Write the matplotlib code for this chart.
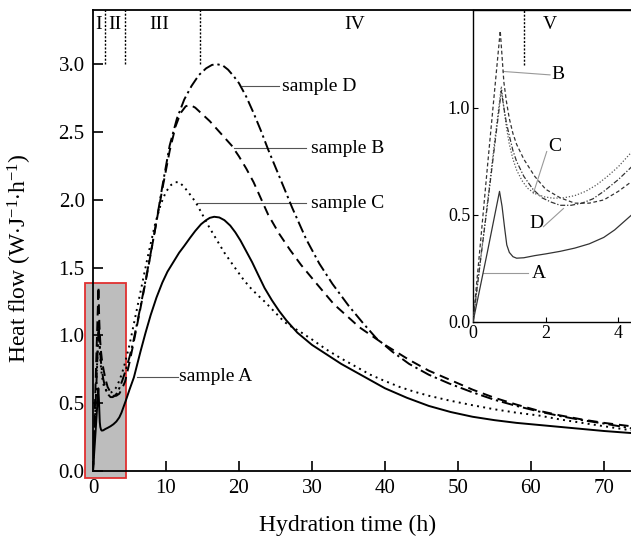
import matplotlib
matplotlib.use("Agg")
import matplotlib.pyplot as plt
from matplotlib.patches import Rectangle

plt.rcParams['font.family'] = ['Liberation Serif', 'DejaVu Serif']
plt.rcParams['mathtext.fontset'] = 'custom'
plt.rcParams['mathtext.rm'] = 'Liberation Serif'
plt.rcParams['mathtext.it'] = 'Liberation Serif:italic'

# ---------------- data ----------------
A_x = [0, 0.2, 0.4, 0.6, 0.73, 0.8, 0.87, 0.93, 1.0, 1.1, 1.2, 1.4, 1.7, 2.0, 2.4, 2.8, 3.2, 3.6, 3.9,
       4.2, 4.5, 5.0, 5.6, 6.5, 7.2, 7.9, 8.7, 9.5, 10.2, 11.0, 11.8, 12.5, 13.3, 14.0, 14.8, 15.5, 16.0,
       16.6, 17.3, 18.0, 18.8, 19.5, 20.2, 21.0, 21.8, 22.6, 23.5, 24.5, 25.5, 26.5, 28, 30, 32, 34, 36,
       38, 40, 43, 46, 49, 52, 55, 58, 61, 64, 67, 70, 73.7]
A_y = [0, 0.165, 0.33, 0.50, 0.61, 0.54, 0.44, 0.36, 0.325, 0.305, 0.298, 0.30, 0.31, 0.318, 0.33, 0.345,
       0.365, 0.395, 0.43, 0.475, 0.52, 0.60, 0.69, 0.88, 1.02, 1.15, 1.28, 1.39, 1.47, 1.54, 1.61, 1.66,
       1.72, 1.77, 1.82, 1.85, 1.867, 1.875, 1.87, 1.85, 1.81, 1.76, 1.70, 1.62, 1.54, 1.45, 1.35, 1.26,
       1.18, 1.11, 1.02, 0.93, 0.86, 0.79, 0.73, 0.67, 0.61, 0.54, 0.48, 0.435, 0.40, 0.375, 0.355, 0.34,
       0.325, 0.31, 0.295, 0.28]

B_x = [0, 0.2, 0.4, 0.6, 0.75, 0.8, 0.85, 0.92, 1.0, 1.1, 1.2, 1.4, 1.7, 2.0, 2.4, 2.8, 3.2, 3.6, 4.0,
       4.4, 5.0, 5.5, 6.5, 7.5, 8.5, 9.5, 10.5, 11.3, 12.0, 12.7, 13.3, 14.0, 15.0, 16.0, 17.0, 18.0, 19.0,
       20.0, 21.0, 22.0, 23.0, 24.0, 25.5, 27, 28.5, 30.5, 33, 36.5, 40, 43.3, 46, 49, 52, 55, 58, 61, 64,
       67, 70, 73.7]
B_y = [0, 0.36, 0.73, 1.09, 1.36, 1.24, 1.12, 1.03, 0.95, 0.88, 0.83, 0.76, 0.68, 0.62, 0.58, 0.555,
       0.555, 0.57, 0.61, 0.66, 0.80, 0.93, 1.20, 1.48, 1.78, 2.08, 2.36, 2.54, 2.64, 2.69, 2.70, 2.68,
       2.63, 2.58, 2.52, 2.46, 2.40, 2.32, 2.23, 2.13, 2.01, 1.89, 1.75, 1.63, 1.52, 1.39, 1.23, 1.06,
       0.93, 0.82, 0.74, 0.67, 0.60, 0.54, 0.49, 0.445, 0.41, 0.38, 0.355, 0.33]

C_x = [0, 0.2, 0.4, 0.6, 0.78, 0.85, 0.92, 1.0, 1.1, 1.2, 1.35, 1.5, 1.7, 1.95, 2.2, 2.5, 2.8, 3.1, 3.4,
       3.7, 4.0, 4.4, 5.0, 5.5, 6.5, 7.5, 8.5, 9.3, 10.0, 10.7, 11.3, 11.8, 12.4, 13.0, 13.7, 14.3, 15.0,
       15.9, 17.0, 18.0, 19.3, 20.5, 21.4, 22.5, 23.5, 24.4, 25.3, 26.2, 27.3, 28.3, 30, 32, 34, 36, 38,
       39.7, 42, 44, 46, 48.8, 52, 55, 58, 61, 64, 67, 70, 73.7]
C_y = [0, 0.28, 0.56, 0.85, 1.10, 1.0, 0.91, 0.83, 0.76, 0.71, 0.66, 0.625, 0.60, 0.585, 0.578, 0.58,
       0.59, 0.61, 0.64, 0.68, 0.725, 0.80, 0.93, 1.06, 1.32, 1.58, 1.82, 1.97, 2.06, 2.11, 2.13, 2.13,
       2.10, 2.06, 2.01, 1.96, 1.89, 1.80, 1.70, 1.61, 1.51, 1.42, 1.36, 1.30, 1.25, 1.20, 1.15, 1.10,
       1.06, 1.03, 0.97, 0.895, 0.83, 0.77, 0.71, 0.67, 0.62, 0.585, 0.555, 0.52, 0.485, 0.455, 0.43,
       0.41, 0.38, 0.355, 0.33, 0.30]

D_x = [0, 0.2, 0.4, 0.6, 0.78, 0.85, 0.92, 1.0, 1.1, 1.2, 1.4, 1.65, 1.9, 2.15, 2.4, 2.7, 3.0, 3.3, 3.6,
       4.0, 4.4, 5.0, 5.5, 6.5, 7.5, 8.5, 9.5, 10.5, 11.5, 12.5, 13.5, 14.5, 15.5, 16.3, 17.0, 17.8, 18.5,
       19.3, 20.0, 21.0, 22.0, 23.0, 24.0, 25.0, 26.0, 27.3, 29.2, 31, 32.8, 35, 37, 38.8, 41, 43.3, 46,
       48.8, 52, 55, 58, 61, 64, 67, 70, 73.7]
D_y = [0, 0.28, 0.55, 0.83, 1.08, 1.0, 0.93, 0.87, 0.80, 0.75, 0.68, 0.62, 0.58, 0.56, 0.545, 0.545,
       0.555, 0.575, 0.61, 0.665, 0.73, 0.84, 0.95, 1.21, 1.49, 1.78, 2.10, 2.40, 2.60, 2.74, 2.84, 2.92,
       2.97, 2.995, 3.0, 2.99, 2.96, 2.91, 2.86, 2.76, 2.64, 2.51, 2.37, 2.24, 2.11, 1.94, 1.71, 1.53,
       1.38, 1.22, 1.09, 0.98, 0.88, 0.79, 0.71, 0.645, 0.58, 0.525, 0.48, 0.44, 0.405, 0.375, 0.35,
       0.315]

main_xticks = [0, 10, 20, 30, 40, 50, 60, 70]
main_yticks = [0.0, 0.5, 1.0, 1.5, 2.0, 2.5, 3.0]
inset_xticks = [0, 2, 4]
inset_yticks = [0.0, 0.5, 1.0]
stage_bounds = [1.65, 4.4, 14.7]
stage_labels = ['I', 'II', 'III', 'IV']
stage_label_x = [0.8, 3.0, 9.1, 35.8]
inset_bound = 1.4

# ---------------- figure ----------------
fig = plt.figure(figsize=(6.31, 5.36), dpi=100)
ax = fig.add_axes([93/631, 65/536, 538/631, 461/536])

styles = {
    'A': dict(color='black', linestyle='-'),
    'B': dict(color='black', linestyle=(0, (5, 3))),
    'C': dict(color='black', linestyle=(0, (1, 2.2))),
    'D': dict(color='black', linestyle=(0, (6, 2, 1.2, 2))),
}
series = {'A': (A_x, A_y), 'B': (B_x, B_y), 'C': (C_x, C_y), 'D': (D_x, D_y)}

for k, (xs, ys) in series.items():
    ax.plot(xs, ys, lw=1.4, zorder=3, **styles[k])

ax.set_xlim(0, 73.7)
ax.set_ylim(0, 3.4)
ax.set_xticks(main_xticks)
ax.set_yticks(main_yticks)
ax.set_yticklabels([f'{v:.1f}' for v in main_yticks])
ax.tick_params(direction='in', length=7, width=1.2, labelsize=15, pad=6)
for s in ['left', 'bottom', 'top']:
    ax.spines[s].set_linewidth(1.3)
ax.spines['right'].set_visible(False)

ax.set_xlabel('Hydration time (h)', fontsize=17)
ax.set_ylabel(r'Heat flow (W$\cdot$J$^{\mathrm{-1}}$$\cdot$h$^{\mathrm{-1}}$)', fontsize=17)
ax.xaxis.set_label_coords(0.474, -0.095)
ax.yaxis.set_label_coords(-0.11, 0.462)

# red-framed shaded box
ax.add_patch(Rectangle((-1.1, -0.05), 5.56, 1.44, facecolor='#bdbdbd', edgecolor='#e03030',
                       lw=1.3, clip_on=False, zorder=1))

# stage boundaries
for xb in stage_bounds:
    ax.plot([xb, xb], [3.0, 3.4], color='black', lw=1.0, linestyle=(0, (1.5, 1.2)), zorder=2)
for lab, lx in zip(stage_labels, stage_label_x):
    ax.text(lx, 3.29, lab, ha='center', va='center', fontsize=14)

# leaders and sample labels
leader_c = '#555555'
ax.plot([20.45, 25.5], [2.836, 2.836], color=leader_c, lw=0.8, zorder=2)
ax.text(25.9, 2.836, 'sample D', va='center', ha='left', fontsize=14)
ax.plot([19.35, 29.2], [2.38, 2.38], color=leader_c, lw=0.8, zorder=2)
ax.text(29.9, 2.38, 'sample B', va='center', ha='left', fontsize=14)
ax.plot([14.3, 29.2], [1.975, 1.975], color=leader_c, lw=0.8, zorder=2)
ax.text(29.9, 1.975, 'sample C', va='center', ha='left', fontsize=14)
ax.plot([6.08, 11.6], [0.694, 0.694], color=leader_c, lw=0.8, zorder=2)
ax.text(11.8, 0.694, 'sample A', va='center', ha='left', fontsize=14)

# ---------------- inset ----------------
ins = fig.add_axes([473/631, 214/536, 158/631, 312/536])
ins.set_facecolor('white')
ins_styles = {
    'A': dict(color='#333333', linestyle='-'),
    'B': dict(color='#333333', linestyle=(0, (3, 2))),
    'C': dict(color='#555555', linestyle=(0, (1, 1.5))),
    'D': dict(color='#333333', linestyle=(0, (4, 1.5, 1, 1.5))),
}
for k, (xs, ys) in series.items():
    ins.plot(xs, ys, lw=0.9, zorder=3, **ins_styles[k])
ins.set_xlim(0, 4.35)
ins.set_ylim(0, 1.457)
ins.set_xticks(inset_xticks)
ins.set_yticks(inset_yticks)
ins.set_yticklabels([f'{v:.1f}' for v in inset_yticks])
ins.tick_params(direction='in', length=3.5, width=0.8, labelsize=13, pad=2)
ins.spines['right'].set_visible(False)
for s in ['left', 'bottom', 'top']:
    ins.spines[s].set_linewidth(1.0)

ins.plot([inset_bound, inset_bound], [1.20, 1.457], color='black', lw=1.0,
         linestyle=(0, (1.5, 1.2)), zorder=2)
ins.text(2.12, 1.39, 'V', ha='center', va='center', fontsize=14)

lc = '#999999'
ins.plot([0.835, 2.12], [1.17, 1.154], color=lc, lw=0.8)
ins.text(2.15, 1.155, 'B', ha='left', va='center', fontsize=14)
ins.plot([1.66, 2.03], [0.60, 0.796], color=lc, lw=0.8)
ins.text(2.26, 0.82, 'C', ha='center', va='center', fontsize=14)
ins.plot([1.94, 2.49], [0.445, 0.53], color=lc, lw=0.8)
ins.text(1.75, 0.46, 'D', ha='center', va='center', fontsize=14)
ins.plot([0.28, 1.52], [0.228, 0.228], color=lc, lw=0.8)
ins.text(1.8, 0.228, 'A', ha='center', va='center', fontsize=14)

fig.savefig('out.png', dpi=100)
